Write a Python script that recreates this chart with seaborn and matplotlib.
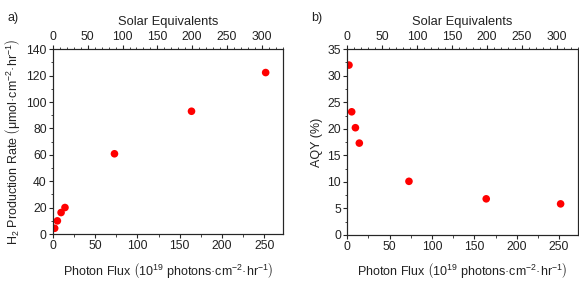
import numpy as np
import pandas as pd
import seaborn as sns
import matplotlib.pyplot as plt
from matplotlib.ticker import MultipleLocator

# 数据
photon_flux = [2.0, 5.2, 9.6, 14.2, 72.8, 164.0, 251.8]
h2_rate = [4.4, 10.0, 16.3, 20.1, 60.8, 93.0, 122.3]
aqy = [32.0, 23.2, 20.2, 17.3, 10.1, 6.8, 5.85]
suns_per_flux = 1.214  # 1 个太阳当量约 0.824e19 photons/cm2/hr

df = pd.DataFrame({'flux': photon_flux, 'rate': h2_rate, 'aqy': aqy})

sns.set_style('ticks')
plt.rcParams['font.family'] = ['Liberation Sans', 'DejaVu Sans']
plt.rcParams['mathtext.default'] = 'regular'
plt.rcParams['mathtext.fontset'] = 'custom'
plt.rcParams['mathtext.rm'] = 'Liberation Sans'
plt.rcParams['mathtext.it'] = 'Liberation Sans:italic'
plt.rcParams['axes.linewidth'] = 0.8

fig = plt.figure(figsize=(5.79, 2.81), dpi=100)
ax1 = fig.add_axes([0.0915, 0.167, 0.3968, 0.658])
ax2 = fig.add_axes([0.5998, 0.164, 0.398, 0.661])

xlabel = r'Photon Flux $\left(10^{19}\ photons·cm^{-2}·hr^{-1}\right)$'
txt = '#222222'

def style(ax, ycol, ymax, ymaj, ymin, ylabel):
    sns.scatterplot(data=df, x='flux', y=ycol, ax=ax, color='#ff0000', s=30,
                    edgecolor='none', legend=False)
    ax.set_xlim(0, 272)
    ax.set_ylim(0, ymax)
    ax.xaxis.set_major_locator(MultipleLocator(50))
    ax.xaxis.set_minor_locator(MultipleLocator(25))
    ax.yaxis.set_major_locator(MultipleLocator(ymaj))
    ax.yaxis.set_minor_locator(MultipleLocator(ymin))
    ax.tick_params(which='major', length=3, width=0.8, labelsize=8.7, pad=1.5,
                   labelcolor=txt)
    ax.tick_params(which='minor', length=1.8, width=0.6)
    ax.set_xlabel(xlabel, fontsize=9, labelpad=6, color=txt)
    ax.set_ylabel(ylabel, fontsize=9, labelpad=3, color=txt)
    for sp in ax.spines.values():
        sp.set_visible(True)

    top = ax.twiny()
    top.set_xlim(0, 272 * suns_per_flux)
    top.xaxis.set_major_locator(MultipleLocator(50))
    top.xaxis.set_minor_locator(MultipleLocator(10))
    top.tick_params(which='major', length=3, width=0.8, labelsize=8.7, pad=1.5,
                    labelcolor=txt)
    top.tick_params(which='minor', length=1.8, width=0.6)
    top.set_xlabel('Solar Equivalents', fontsize=9.3, labelpad=4.5, color=txt)
    for sp in top.spines.values():
        sp.set_linewidth(0.8)

style(ax1, 'rate', 140, 20, 10,
      r'H$_2$ Production Rate $\left(\mu mol·cm^{-2}·hr^{-1}\right)$')
style(ax2, 'aqy', 35, 5, 2.5, 'AQY (%)')

fig.text(0.013, 0.925, 'a)', fontsize=9, color=txt)
fig.text(0.538, 0.925, 'b)', fontsize=9, color=txt)

fig.savefig('out.png', dpi=100)
